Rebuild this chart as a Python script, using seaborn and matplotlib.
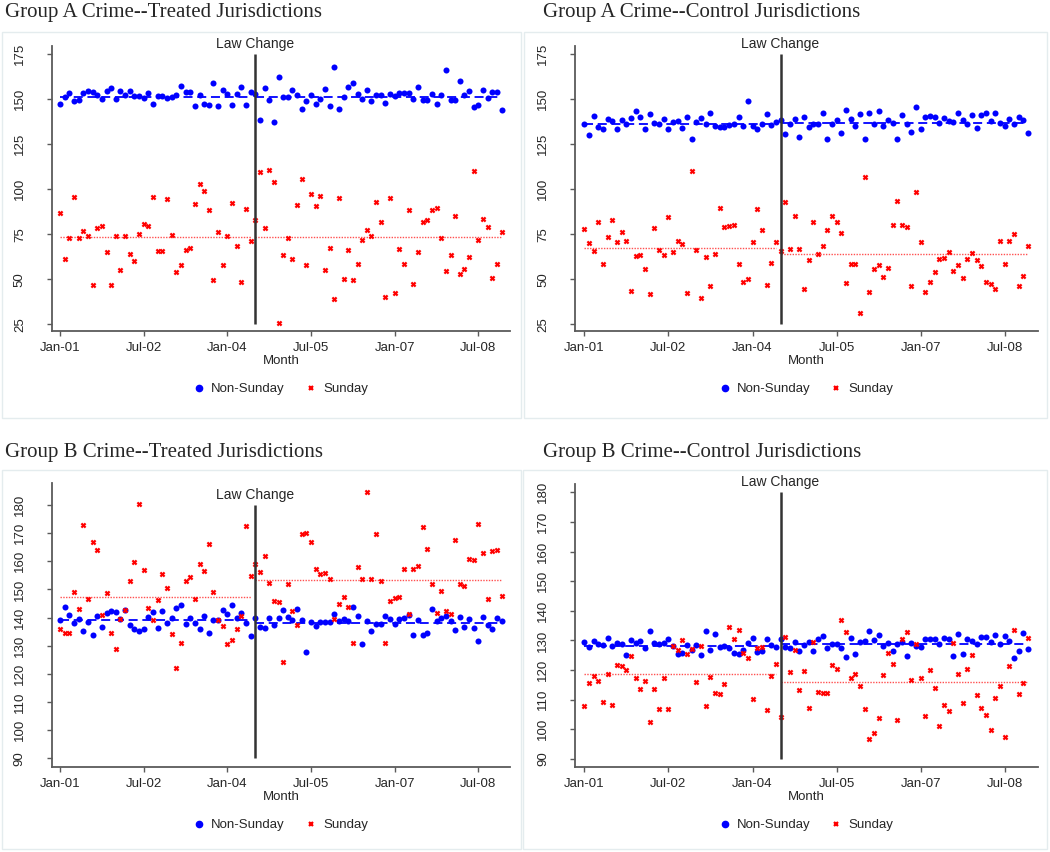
import numpy as np
import pandas as pd
import seaborn as sns
import matplotlib.pyplot as plt
from matplotlib.patches import Rectangle
from matplotlib.lines import Line2D

# --------------------------
# Data (monthly counts, Jan-2001 .. Dec-2008)
# --------------------------
months = np.arange(96)
law_month = 42  # Jul-04
tick_months = [0, 18, 36, 54, 72, 90]
tick_labels = ["Jan-01", "Jul-02", "Jan-04", "Jul-05", "Jan-07", "Jul-08"]

a_treat_nonsun = [
    147.4, 151.5, 153.7, 149.1, 149.4, 153.7, 154.4, 154.3, 152.2, 150.2, 154.4, 156.5,
    150.0, 154.8, 152.6, 154.4, 152.0, 152.0, 150.9, 153.3, 147.4, 151.7, 151.7, 150.9,
    151.3, 152.4, 157.2, 153.9, 153.9, 146.3, 152.4, 147.2, 146.7, 159.3, 146.3, 155.2,
    152.8, 147.0, 152.8, 157.0, 146.7, 153.9, 152.8, 138.5, 156.1, 149.6, 137.6, 162.4,
    151.3, 151.5, 155.0, 152.4, 144.6, 149.1, 152.6, 147.2, 150.4, 155.6, 146.1, 168.0,
    144.8, 151.1, 156.7, 159.3, 153.1, 150.2, 155.2, 148.9, 152.4, 152.4, 147.8, 152.8,
    152.0, 153.7, 153.7, 153.7, 150.4, 157.0, 149.4, 149.4, 152.8, 147.6, 152.2, 166.1,
    149.4, 149.4, 160.4, 152.2, 154.8, 145.7, 147.0, 155.0, 150.9, 153.9, 154.3, 144.1]
a_treat_sun = [
    87.0, 61.5, 73.1, 95.9, 73.1, 76.9, 74.1, 47.0, 78.5, 79.4, 65.0, 47.0,
    74.1, 55.0, 74.1, 64.3, 60.4, 75.0, 80.6, 79.4, 95.6, 65.6, 65.6, 94.6,
    74.8, 54.1, 57.8, 66.1, 67.4, 91.7, 103.0, 98.9, 88.5, 49.8, 76.3, 57.8,
    74.1, 92.2, 68.5, 48.5, 88.9, 71.1, 82.8, 109.8, 78.5, 110.6, 104.1, 25.7,
    63.3, 73.0, 61.3, 91.5, 105.9, 58.1, 97.4, 90.6, 96.5, 55.0, 67.6, 39.1,
    95.4, 50.4, 66.5, 49.8, 58.5, 71.9, 77.4, 74.1, 92.8, 82.0, 40.0, 95.4,
    42.6, 66.7, 58.5, 88.5, 47.6, 65.2, 82.0, 83.0, 88.5, 89.8, 73.0, 54.6,
    63.7, 85.4, 53.1, 55.7, 62.6, 110.0, 71.7, 83.3, 78.9, 50.6, 58.3, 76.1]
a_ctrl_nonsun = [
    136.5, 130.0, 140.6, 134.6, 133.5, 138.9, 137.8, 133.5, 138.5, 136.3, 139.8, 143.3,
    140.0, 133.5, 141.7, 136.9, 136.5, 138.9, 133.7, 137.6, 138.1, 134.1, 140.0, 127.8,
    137.2, 139.6, 136.5, 142.2, 135.2, 134.6, 134.6, 135.7, 136.1, 140.0, 135.0, 149.1,
    135.2, 133.5, 136.1, 141.9, 135.7, 137.4, 138.5, 130.9, 136.5, 138.9, 128.9, 140.0,
    134.6, 136.1, 136.1, 142.2, 128.1, 136.3, 138.3, 131.5, 144.1, 138.9, 135.2, 141.9,
    127.8, 142.2, 136.3, 143.5, 135.4, 138.5, 136.9, 128.0, 141.3, 136.5, 131.9, 145.7,
    133.3, 140.4, 140.7, 140.0, 136.9, 139.6, 138.1, 137.4, 142.4, 138.5, 136.5, 141.5,
    134.1, 141.1, 142.6, 138.0, 142.2, 136.7, 135.0, 138.9, 136.5, 140.4, 138.5, 131.3]
a_ctrl_sun = [
    78.0, 70.0, 65.7, 81.9, 58.3, 73.3, 83.0, 71.0, 76.3, 71.1, 43.3, 62.8,
    63.3, 55.9, 41.7, 78.7, 66.1, 63.7, 84.4, 65.4, 71.5, 69.4, 42.4, 110.2,
    66.3, 39.6, 62.6, 46.1, 64.1, 89.8, 78.9, 79.4, 80.0, 58.3, 48.7, 50.2,
    70.7, 89.3, 77.4, 47.0, 58.9, 70.7, 65.9, 93.1, 67.0, 85.2, 66.9, 44.6,
    60.7, 82.0, 64.3, 68.7, 77.4, 85.2, 81.7, 75.7, 47.9, 58.3, 58.7, 31.5,
    107.0, 43.0, 55.7, 58.1, 51.5, 56.5, 80.4, 93.7, 80.4, 79.3, 46.1, 98.5,
    70.6, 42.8, 48.5, 53.9, 61.1, 61.9, 65.4, 54.8, 58.1, 50.6, 61.1, 64.8,
    60.6, 57.4, 48.5, 47.4, 44.8, 71.5, 58.3, 71.5, 75.2, 46.5, 51.7, 68.7]
b_treat_nonsun = [
    139.3, 143.8, 140.9, 138.2, 139.4, 135.4, 138.3, 133.9, 140.6, 136.8, 141.7, 142.5,
    142.0, 139.4, 142.6, 137.4, 136.1, 135.2, 135.8, 140.2, 141.9, 136.2, 142.2, 138.0,
    140.0, 143.3, 144.4, 137.8, 140.0, 138.2, 135.9, 140.7, 134.4, 139.1, 139.0, 142.6,
    141.4, 144.4, 139.9, 141.6, 138.2, 133.3, 139.7, 136.7, 136.2, 139.9, 137.5, 139.7,
    142.8, 140.2, 139.0, 143.2, 139.3, 127.8, 138.6, 136.9, 138.4, 138.3, 138.3, 141.3,
    138.9, 139.4, 138.9, 143.9, 140.7, 130.7, 138.8, 135.1, 137.7, 137.7, 140.7, 139.6,
    137.7, 139.5, 139.7, 140.8, 133.9, 139.3, 133.9, 134.4, 143.1, 138.8, 140.0, 140.6,
    138.7, 135.6, 140.3, 136.7, 139.5, 136.4, 131.6, 140.2, 137.5, 135.9, 139.7, 138.9]
b_treat_sun = [
    136.1, 134.4, 134.4, 149.0, 143.0, 173.0, 146.5, 167.0, 164.0, 140.8, 148.7, 134.5,
    128.8, 139.6, 142.6, 153.0, 159.6, 180.4, 156.8, 143.4, 139.1, 146.4, 155.6, 150.6,
    134.3, 122.0, 130.9, 153.1, 154.5, 146.7, 158.9, 156.6, 166.0, 149.2, 139.3, 136.9,
    130.5, 131.9, 135.8, 140.4, 172.7, 154.8, 158.9, 156.3, 161.9, 152.4, 146.0, 145.7,
    124.2, 152.1, 142.2, 137.5, 169.7, 169.9, 166.7, 157.4, 155.5, 155.9, 153.8, 139.4,
    144.7, 147.4, 143.8, 131.1, 158.0, 153.8, 184.7, 153.6, 169.7, 153.1, 131.1, 146.0,
    146.8, 147.3, 157.4, 141.3, 157.4, 158.2, 172.2, 164.5, 152.1, 141.6, 149.6, 142.5,
    141.3, 167.6, 151.8, 151.2, 160.7, 160.3, 173.2, 162.9, 146.5, 163.8, 164.0, 147.6]
b_ctrl_nonsun = [
    129.4, 127.8, 129.7, 128.8, 128.6, 130.7, 128.1, 129.3, 128.8, 125.1, 130.1, 129.3,
    129.8, 127.6, 133.3, 129.2, 128.8, 129.0, 130.5, 128.3, 125.4, 125.8, 128.6, 126.9,
    128.5, 125.1, 133.1, 126.9, 132.1, 127.8, 128.3, 127.4, 125.8, 125.6, 126.9, 129.0,
    130.8, 126.0, 126.3, 130.4, 128.5, 127.9, 130.4, 127.7, 127.4, 129.5, 126.6, 128.4,
    129.4, 126.3, 130.4, 131.5, 127.4, 128.8, 128.9, 127.4, 124.3, 131.0, 125.3, 129.4,
    129.8, 133.3, 130.2, 132.0, 128.1, 129.3, 126.5, 128.8, 129.5, 124.9, 129.0, 128.0,
    127.7, 130.5, 130.5, 130.5, 128.9, 131.0, 130.4, 124.7, 132.1, 125.3, 130.5, 129.8,
    128.9, 131.2, 131.1, 129.5, 131.9, 128.9, 131.5, 129.9, 124.2, 126.6, 132.4, 127.2]
b_ctrl_sun = [
    108.0, 115.8, 118.0, 116.3, 109.2, 118.7, 108.3, 121.6, 121.4, 120.0, 124.7, 117.5,
    113.7, 116.2, 102.4, 113.5, 106.9, 117.2, 107.0, 128.1, 126.7, 130.3, 125.4, 127.0,
    116.0, 128.1, 108.0, 117.6, 112.4, 111.8, 115.2, 134.7, 130.5, 133.7, 125.7, 124.0,
    110.4, 127.4, 127.8, 106.4, 118.1, 122.1, 104.3, 131.3, 119.4, 126.7, 113.2, 119.7,
    107.2, 129.5, 112.5, 112.2, 112.4, 121.6, 120.4, 136.9, 132.9, 117.3, 118.8, 114.8,
    106.9, 96.9, 98.8, 103.7, 118.4, 125.9, 122.1, 103.3, 130.4, 132.9, 116.6, 128.8,
    117.5, 104.5, 120.1, 114.0, 101.3, 108.3, 106.3, 129.3, 118.6, 108.8, 120.4, 125.1,
    111.5, 107.3, 104.7, 99.9, 110.6, 114.6, 97.4, 121.5, 133.7, 111.8, 115.8, 131.0]

# fitted pre / post levels as drawn in the chart
a_treat_levels = {"nonsun": [151.5, 151.5], "sun": [73.3, 73.3]}
a_ctrl_levels = {"nonsun": [136.5, 136.9], "sun": [67.2, 64.3]}
b_treat_levels = {"nonsun": [139.0, 138.0], "sun": [147.2, 153.5]}
b_ctrl_levels = {"nonsun": [128.3, 128.7], "sun": [118.7, 116.1]}

titles = ["Group A Crime--Treated Jurisdictions", "Group A Crime--Control Jurisdictions",
          "Group B Crime--Treated Jurisdictions", "Group B Crime--Control Jurisdictions"]

# --------------------------
# Layout (pixel boxes)
# --------------------------
W, H = 1050, 852
sans = ["Liberation Sans", "DejaVu Sans"]
serif = ["Liberation Serif", "DejaVu Serif"]

sns.set_theme(style="white")
plt.rcParams["font.family"] = sans

panels = [
    dict(title=titles[0], nonsun=a_treat_nonsun, sun=a_treat_sun, lv=a_treat_levels,
         box=(51.7, 45.7, 510, 331), xlim=(-1.8, 96.8), ylim=(21.3, 179.8),
         yticks=np.arange(25, 176, 25), vline=(25, 175), title_xy=(5, 13), frame=(2, 31.5, 521, 417.5)),
    dict(title=titles[1], nonsun=a_ctrl_nonsun, sun=a_ctrl_sun, lv=a_ctrl_levels,
         box=(575, 45.7, 1037.5, 331), xlim=(-2.0, 97.0), ylim=(21.3, 179.8),
         yticks=np.arange(25, 176, 25), vline=(25, 175), title_xy=(543, 13), frame=(524, 31.5, 1047, 417.5)),
    dict(title=titles[2], nonsun=b_treat_nonsun, sun=b_treat_sun, lv=b_treat_levels,
         box=(51.7, 483.3, 510, 767.3), xlim=(-1.8, 96.8), ylim=(86.8, 187.7),
         yticks=np.arange(90, 181, 10), vline=(90, 180), title_xy=(5, 452), frame=(2, 469.5, 521, 849)),
    dict(title=titles[3], nonsun=b_ctrl_nonsun, sun=b_ctrl_sun, lv=b_ctrl_levels,
         box=(575, 484.3, 1037.5, 767.3), xlim=(-2.0, 97.0), ylim=(87.2, 182.7),
         yticks=np.arange(90, 181, 10), vline=(90, 180), title_xy=(543, 452), frame=(523, 469.5, 1047, 849)),
]

fig = plt.figure(figsize=(W / 100, H / 100), dpi=100)
fig.patch.set_facecolor("white")

axis_col = "#5a5a5a"
pre = months < law_month
post = ~pre

for p in panels:
    fx0, fy0, fx1, fy1 = p["frame"]
    fig.patches.append(Rectangle((fx0 / W, 1 - fy1 / H), (fx1 - fx0) / W, (fy1 - fy0) / H,
                                 transform=fig.transFigure, fill=False,
                                 edgecolor="#e4ecee", linewidth=1.0))
    fig.text(p["title_xy"][0] / W, 1 - p["title_xy"][1] / H, p["title"],
             family=serif, fontsize=15, ha="left", va="center")

    x0, y0, x1, y1 = p["box"]
    ax = fig.add_axes([x0 / W, 1 - y1 / H, (x1 - x0) / W, (y1 - y0) / H])
    h_px = y1 - y0

    df = pd.DataFrame({"month": months, "nonsun": p["nonsun"], "sun": p["sun"]})

    # fitted levels
    lv = p["lv"]
    for mask, i in [(pre, 0), (post, 1)]:
        m = months[mask]
        ax.hlines(lv["nonsun"][i], m.min(), m.max(), colors="blue",
                  linestyles=(0, (5, 2.6)), linewidth=1.3, zorder=2)
        ax.hlines(lv["sun"][i], m.min(), m.max(), colors="#ff5050",
                  linestyles=(0, (1, 1)), linewidth=1.0, zorder=2)

    sns.scatterplot(data=df, x="month", y="nonsun", ax=ax, color="blue", marker="o",
                    s=19, linewidth=0, zorder=3, legend=False)
    sns.scatterplot(data=df, x="month", y="sun", ax=ax, color="red", marker="x",
                    s=9, linewidth=1.6, zorder=3, legend=False)

    ax.vlines(law_month, p["vline"][0], p["vline"][1], colors="#333333", linewidth=1.8, zorder=4)
    ax.annotate("Law Change", xy=(law_month, p["vline"][1]), xytext=(0, 7.5),
                textcoords="offset points", ha="center", va="center", fontsize=10)

    ax.set_xlim(*p["xlim"])
    ax.set_ylim(*p["ylim"])
    ax.set_xticks(tick_months)
    ax.set_xticklabels(tick_labels)
    ax.set_yticks(p["yticks"])
    ax.set_yticklabels([str(v) for v in p["yticks"]], rotation=90, va="center")
    ax.set_xlabel("")
    ax.set_ylabel("")
    ax.tick_params(axis="x", direction="out", length=3.6, width=1, color=axis_col,
                   labelsize=9.5, pad=4, bottom=True)
    ax.tick_params(axis="y", direction="out", length=3.6, width=1, color=axis_col,
                   labelsize=9.5, pad=15, left=True)
    for side in ["top", "right"]:
        ax.spines[side].set_visible(False)
    for side in ["left", "bottom"]:
        ax.spines[side].set_color(axis_col)
        ax.spines[side].set_linewidth(1.3)
    ax.set_facecolor("white")

    ax.text(0.5, -30 / h_px, "Month", transform=ax.transAxes, ha="center", va="center", fontsize=9.5)

    handles = [Line2D([], [], linestyle="none", marker="o", color="blue", markersize=4.5),
               Line2D([], [], linestyle="none", marker="x", color="red", markersize=3.2,
                      markeredgewidth=1.6)]
    ax.legend(handles, ["Non-Sunday", "Sunday"], loc="center", bbox_to_anchor=(0.5, -58 / h_px),
              ncol=2, frameon=False, fontsize=9.5, handlelength=0.8, handletextpad=0.5,
              columnspacing=1.6)

fig.savefig("out.png", dpi=100, facecolor="white")
